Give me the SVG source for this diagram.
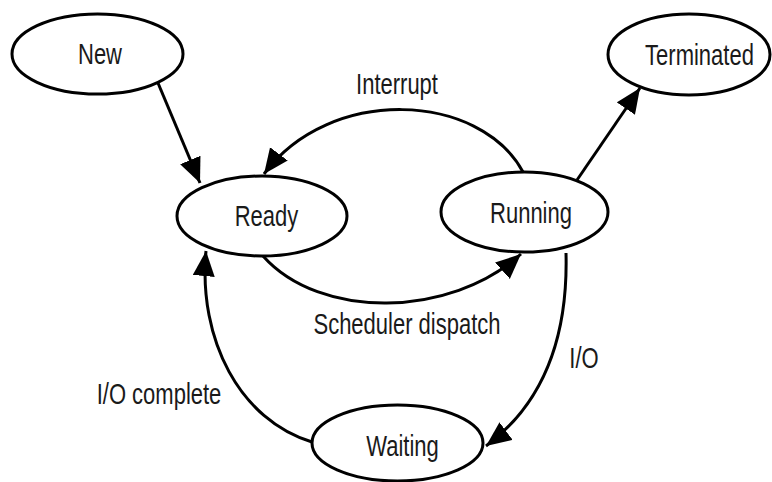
<svg xmlns="http://www.w3.org/2000/svg" width="772" height="482" viewBox="0 0 772 482">
<defs>
<style>
.node ellipse{fill:#fff;stroke:#000;stroke-width:3}
text{font-family:"Liberation Sans",Arial,sans-serif;font-size:22px;fill:#1a1a1a;text-anchor:middle}
.edge{fill:none;stroke:#000;stroke-width:3;marker-end:url(#ah)}
</style>
<marker id="ah" markerUnits="userSpaceOnUse" markerWidth="26" markerHeight="24" refX="25" refY="11" orient="auto">
<path d="M0,0 L25,11 L0,22 z" fill="#000"/>
</marker>
</defs>
<rect width="772" height="482" fill="#fff"/>
<g id="connectors">
<path class="edge" d="M158,83 L200,183"/>
<path class="edge" d="M523,172 C480,92 330,85 264,174"/>
<path class="edge" d="M577,180 L640,88"/>
<path class="edge" d="M263,256 C320,320 450,318 521,254"/>
<path class="edge" d="M566,253 C568,330 548,400 486,446"/>
<path class="edge" d="M312,442 C240,420 198,340 206,251"/>
</g>
<g id="labels">
<text transform="translate(397,84) scale(1,1.36)" y="7.7">Interrupt</text>
<text transform="translate(407,323.5) scale(1,1.36)" y="7.7">Scheduler dispatch</text>
<text transform="translate(159,394) scale(1,1.36)" y="7.7">I/O complete</text>
<text transform="translate(584,358) scale(1,1.36)" y="7.7">I/O</text>
</g>
<g id="new" class="node">
<ellipse cx="97.5" cy="54" rx="85.5" ry="40"/>
<text transform="translate(100,53.5) scale(1,1.36)" y="7.7">New</text>
</g>
<g id="ready" class="node">
<ellipse cx="262" cy="216" rx="85" ry="40"/>
<text transform="translate(266.5,215.5) scale(1,1.36)" y="7.7">Ready</text>
</g>
<g id="running" class="node">
<ellipse cx="524.5" cy="212" rx="83.5" ry="40"/>
<text transform="translate(531,213) scale(1,1.36)" y="7.7">Running</text>
</g>
<g id="terminated" class="node">
<ellipse cx="689" cy="54.5" rx="81" ry="40.5"/>
<text transform="translate(699.5,55) scale(1,1.36)" y="7.7">Terminated</text>
</g>
<g id="waiting" class="node">
<ellipse cx="397.5" cy="443" rx="85.5" ry="38"/>
<text transform="translate(402.5,446) scale(1,1.36)" y="7.7">Waiting</text>
</g>
</svg>
